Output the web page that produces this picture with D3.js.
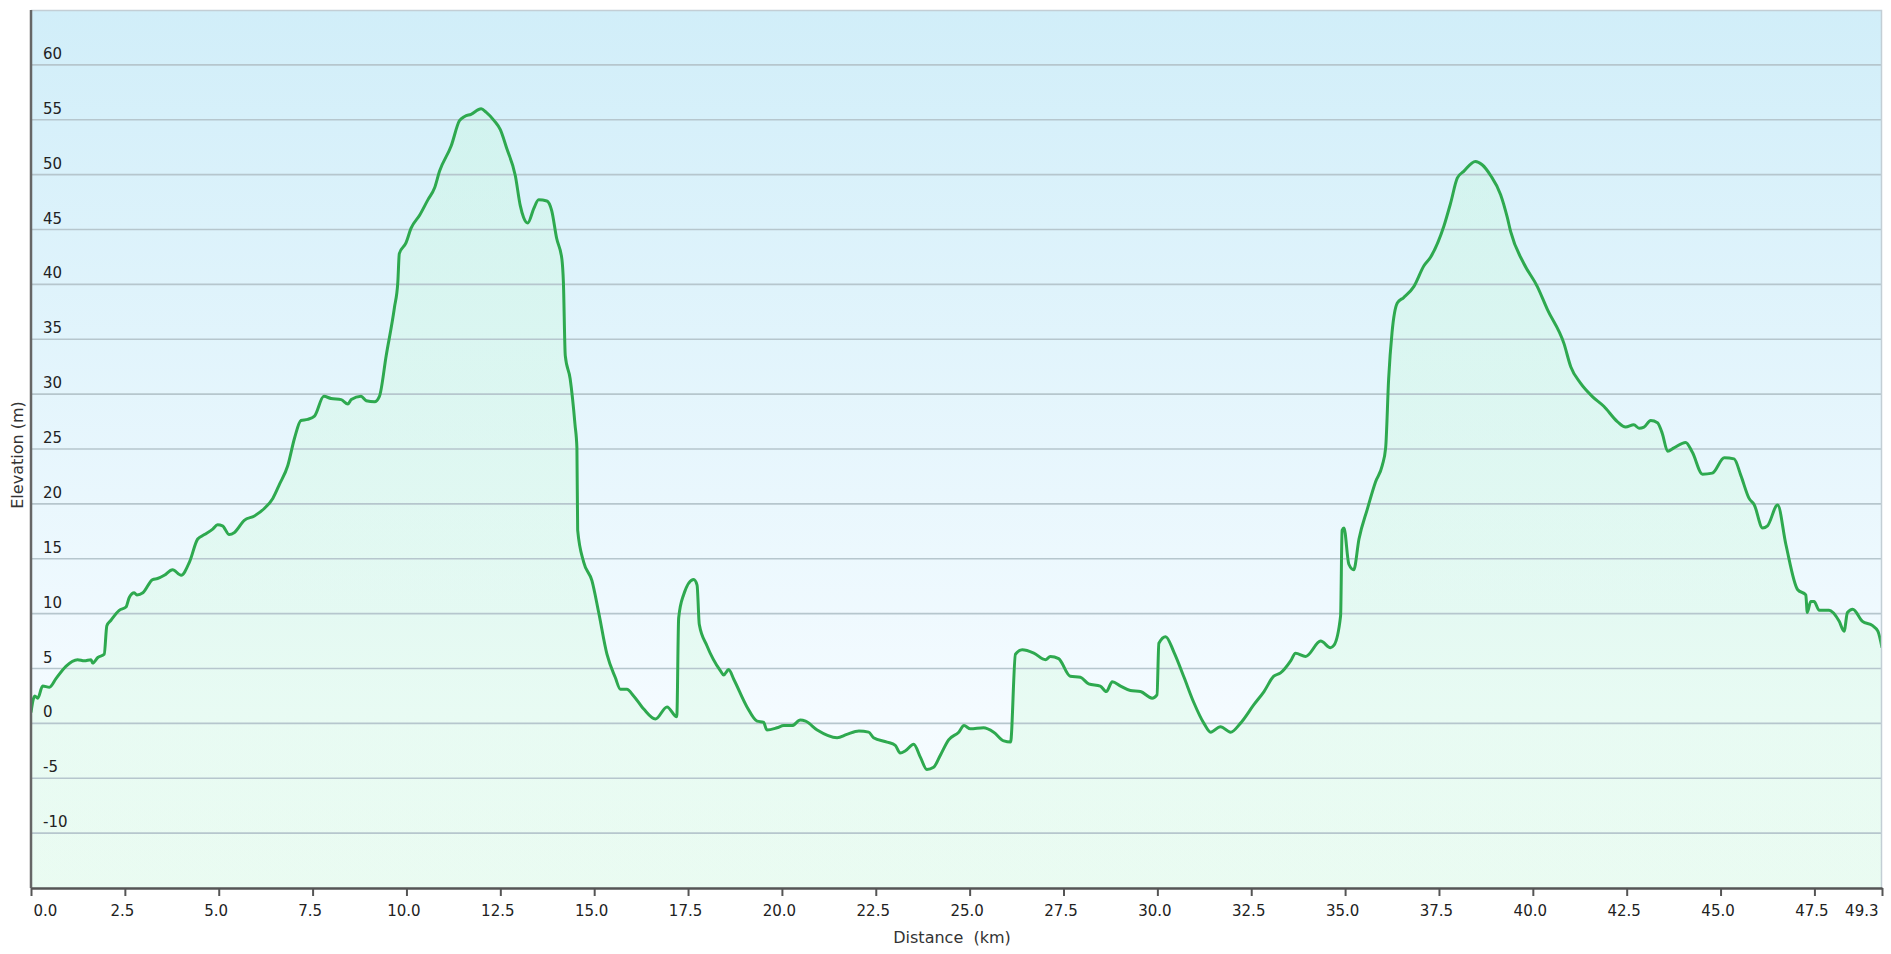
<!DOCTYPE html>
<html>
<head>
<meta charset="utf-8">
<script src="https://cdn.jsdelivr.net/npm/d3@7"></script>
<style>
  html, body { margin: 0; padding: 0; background: #fff; }
  svg { display: block; font-family: "DejaVu Sans", Verdana, sans-serif; }
</style>
</head>
<body>
<div id="chart"></div>
<script>
var W = 1891;
var H = 954;

// distance along the route (km) and elevation (m)
var distance = [
  0.0, 0.1, 0.18, 0.31, 0.49, 0.67, 0.93, 1.24, 1.42, 1.6, 1.64, 1.78, 1.95, 2.02, 2.13, 2.35,
  2.53, 2.62, 2.75, 2.82, 2.98, 3.24, 3.37, 3.55, 3.77, 4.0, 4.22, 4.44, 4.62, 4.84, 4.97, 5.1,
  5.28, 5.42, 5.68, 5.95, 6.22, 6.44, 6.62, 6.84, 7.02, 7.19, 7.37, 7.55, 7.8, 7.99, 8.26, 8.44,
  8.53, 8.79, 8.93, 9.15, 9.28, 9.46, 9.68, 9.77, 9.81, 9.99, 10.12, 10.35, 10.57, 10.75, 10.88, 11.19,
  11.41, 11.55, 11.72, 11.99, 12.12, 12.34, 12.5, 12.67, 12.9, 13.03, 13.12, 13.23, 13.39, 13.52, 13.74, 13.87,
  14.0, 14.14, 14.18, 14.23, 14.36, 14.49, 14.54, 14.56, 14.72, 14.94, 15.12, 15.34, 15.56, 15.7, 15.87, 16.05,
  16.32, 16.63, 16.94, 17.2, 17.25, 17.38, 17.65, 17.74, 17.8, 18.0, 18.36, 18.45, 18.58, 18.72, 19.07, 19.34,
  19.51, 19.6, 19.87, 20.05, 20.27, 20.49, 20.63, 20.94, 21.47, 21.73, 22.05, 22.31, 22.44, 22.8, 23.02, 23.15,
  23.29, 23.51, 23.69, 23.86, 24.04, 24.22, 24.44, 24.71, 24.85, 25.02, 25.37, 25.64, 25.91, 26.09, 26.22, 26.4,
  26.71, 27.02, 27.15, 27.37, 27.68, 27.95, 28.17, 28.48, 28.64, 28.8, 29.02, 29.28, 29.55, 29.86, 29.99, 30.04,
  30.22, 30.44, 30.71, 30.97, 31.24, 31.42, 31.68, 31.95, 32.21, 32.57, 32.84, 33.1, 33.28, 33.55, 33.68, 33.95,
  34.35, 34.61, 34.7, 34.88, 34.92, 34.97, 35.1, 35.23, 35.37, 35.59, 35.81, 35.99, 36.08, 36.16, 36.25, 36.39,
  36.56, 36.83, 37.1, 37.28, 37.63, 37.81, 37.99, 38.16, 38.47, 38.65, 38.88, 39.14, 39.32, 39.41, 39.76, 40.12,
  40.39, 40.83, 41.01, 41.27, 41.58, 41.89, 42.25, 42.47, 42.69, 42.83, 42.96, 43.14, 43.32, 43.45, 43.59, 43.76,
  44.07, 44.25, 44.52, 44.78, 45.1, 45.36, 45.54, 45.76, 45.9, 46.12, 46.25, 46.52, 46.74, 47.05, 47.27, 47.31,
  47.4, 47.49, 47.63, 47.89, 48.16, 48.29, 48.38, 48.52, 48.78, 49.05, 49.19, 49.3
];
var elevation = [
  1.0, 2.5, 2.3, 3.4, 3.3, 4.1, 5.2, 5.8, 5.7, 5.8, 5.5, 6.0, 6.3, 8.9, 9.4, 10.3,
  10.6, 11.5, 11.9, 11.7, 11.9, 13.1, 13.2, 13.5, 14.0, 13.5, 14.7, 16.8, 17.2, 17.7, 18.1, 18.0,
  17.2, 17.4, 18.5, 18.9, 19.6, 20.5, 21.8, 23.5, 26.0, 27.6, 27.7, 28.0, 29.8, 29.6, 29.5, 29.1,
  29.5, 29.8, 29.4, 29.3, 29.8, 33.5, 37.9, 40.2, 42.8, 43.8, 45.1, 46.3, 47.7, 48.8, 50.3, 52.6,
  54.9, 55.3, 55.5, 56.0, 55.7, 54.9, 54.1, 52.4, 49.9, 47.2, 46.1, 45.6, 46.9, 47.7, 47.6, 46.7,
  44.2, 42.3, 40.2, 33.5, 31.4, 27.2, 25.1, 17.6, 14.7, 13.0, 10.1, 6.3, 4.2, 3.1, 3.1, 2.5,
  1.3, 0.4, 1.5, 0.6, 9.6, 11.7, 13.1, 12.6, 9.0, 7.1, 4.8, 4.4, 4.9, 4.0, 1.5, 0.2,
  0.1, -0.6, -0.4, -0.2, -0.2, 0.3, 0.2, -0.6, -1.3, -1.0, -0.7, -0.8, -1.3, -1.7, -2.0, -2.7,
  -2.5, -1.9, -3.1, -4.2, -4.0, -2.9, -1.5, -0.8, -0.2, -0.5, -0.4, -0.8, -1.6, -1.7, 6.3, 6.7,
  6.4, 5.8, 6.1, 5.9, 4.3, 4.2, 3.6, 3.4, 2.9, 3.8, 3.4, 3.0, 2.9, 2.3, 2.6, 7.3,
  7.9, 6.5, 4.2, 1.9, 0.0, -0.8, -0.3, -0.8, 0.0, 1.7, 2.9, 4.3, 4.6, 5.7, 6.4, 6.1,
  7.5, 6.9, 7.1, 9.8, 17.6, 17.8, 14.5, 14.0, 16.8, 19.5, 22.0, 23.5, 25.1, 31.4, 35.6, 38.3,
  38.8, 39.8, 41.7, 42.5, 45.3, 47.4, 49.7, 50.3, 51.2, 50.9, 49.9, 48.2, 46.1, 44.8, 41.9, 39.8,
  37.7, 34.6, 32.5, 31.0, 29.8, 28.9, 27.5, 27.0, 27.2, 26.9, 27.0, 27.6, 27.4, 26.4, 24.8, 25.1,
  25.6, 24.7, 22.7, 22.8, 24.2, 24.1, 22.6, 20.5, 19.9, 17.8, 18.0, 19.9, 16.3, 12.2, 11.7, 10.1,
  11.1, 11.1, 10.3, 10.3, 9.3, 8.4, 10.1, 10.4, 9.3, 8.9, 8.4, 6.9
];

var xTicks = [0, 2.5, 5, 7.5, 10, 12.5, 15, 17.5, 20, 22.5, 25, 27.5, 30, 32.5, 35, 37.5, 40, 42.5, 45, 47.5, 49.3];
var yTicks = [-10, -5, 0, 5, 10, 15, 20, 25, 30, 35, 40, 45, 50, 55, 60];

var plotL = 31, plotR = 1882, plotT = 10, plotB = 888;

var data = distance.map(function (d, i) { return { km: d, m: elevation[i] }; });

var x = d3.scaleLinear().domain([0, 49.3]).range([plotL, plotR]);
var y = d3.scaleLinear().domain([-15, 65]).range([plotB, plotT]);

var svg = d3.select("#chart")
    .append("svg")
    .attr("width", W)
    .attr("height", H);

var defs = svg.append("defs");

var bg = defs.append("linearGradient")
    .attr("id", "bg")
    .attr("x1", 0).attr("y1", 0).attr("x2", 0).attr("y2", 1);
bg.append("stop").attr("offset", "0%").attr("stop-color", "#d1eef9");
bg.append("stop").attr("offset", "80%").attr("stop-color", "#f4fbff");
bg.append("stop").attr("offset", "100%").attr("stop-color", "#f6fcfd");

var fill = defs.append("linearGradient")
    .attr("id", "fill")
    .attr("x1", 0).attr("y1", 0).attr("x2", 0).attr("y2", 1);
fill.append("stop").attr("offset", "0%").attr("stop-color", "rgb(200,250,215)").attr("stop-opacity", 0.3);
fill.append("stop").attr("offset", "100%").attr("stop-color", "rgb(205,250,215)").attr("stop-opacity", 0.3);

defs.append("clipPath").attr("id", "plot")
    .append("rect")
    .attr("x", plotL).attr("y", plotT)
    .attr("width", plotR - plotL).attr("height", plotB - plotT);

// plot background
svg.append("rect")
    .attr("x", plotL).attr("y", plotT)
    .attr("width", plotR - plotL).attr("height", plotB - plotT)
    .attr("fill", "url(#bg)");

// area under the profile
var area = d3.area()
    .x(function (d) { return x(d.km); })
    .y0(y(-15))
    .y1(function (d) { return y(d.m); })
    .curve(d3.curveMonotoneX);

svg.append("path")
    .datum(data)
    .attr("clip-path", "url(#plot)")
    .attr("d", area)
    .attr("fill", "url(#fill)");

// horizontal grid lines
svg.append("g")
    .selectAll("line")
    .data(yTicks)
    .enter()
    .append("line")
    .attr("x1", plotL)
    .attr("x2", plotR)
    .attr("y1", function (d) { return y(d); })
    .attr("y2", function (d) { return y(d); })
    .attr("stroke", "#b6c6cd")
    .attr("stroke-width", 1.6);

// profile line
var line = d3.line()
    .x(function (d) { return x(d.km); })
    .y(function (d) { return y(d.m); })
    .curve(d3.curveMonotoneX);

svg.append("path")
    .datum(data)
    .attr("clip-path", "url(#plot)")
    .attr("d", line)
    .attr("fill", "none")
    .attr("stroke", "#2ea94f")
    .attr("stroke-width", 3)
    .attr("stroke-linejoin", "round");

// y labels sit inside the plot, just above each grid line
svg.append("g")
    .selectAll("text")
    .data(yTicks)
    .enter()
    .append("text")
    .attr("x", plotL + 12)
    .attr("y", function (d) { return y(d) - 6; })
    .attr("font-size", "15px")
    .attr("fill", "#222")
    .text(function (d) { return d; });

// top and right border
svg.append("path")
    .attr("d", "M" + plotL + "," + (plotT + 0.5) + "H" + (plotR - 0.5) + "V" + plotB)
    .attr("fill", "none")
    .attr("stroke", "#c3ced5")
    .attr("stroke-width", 1.5);

// left axis line
svg.append("line")
    .attr("x1", plotL).attr("x2", plotL)
    .attr("y1", plotT).attr("y2", plotB)
    .attr("stroke", "#666")
    .attr("stroke-width", 2.5);

// x axis
var xAxis = d3.axisBottom(x)
    .tickValues(xTicks)
    .tickSize(8)
    .tickSizeOuter(0)
    .tickFormat(d3.format(".1f"));

var gx = svg.append("g")
    .attr("transform", "translate(0," + plotB + ")")
    .call(xAxis);

gx.select(".domain")
    .attr("stroke", "#555")
    .attr("stroke-width", 2.5);
gx.selectAll(".tick line")
    .attr("stroke", "#555")
    .attr("stroke-width", 2);
gx.selectAll(".tick text")
    .attr("font-family", "DejaVu Sans, Verdana, sans-serif")
    .attr("font-size", "15px")
    .attr("fill", "#222")
    .attr("y", 28)
    .attr("dy", null)
    .attr("x", -3);
gx.selectAll(".tick text")
    .filter(function (d, i) { return i === 0; })
    .attr("text-anchor", "start")
    .attr("x", 2);
gx.selectAll(".tick text")
    .filter(function (d, i) { return i === xTicks.length - 1; })
    .attr("text-anchor", "end")
    .attr("x", -4);

// axis titles
svg.append("text")
    .attr("x", 952)
    .attr("y", 943)
    .attr("text-anchor", "middle")
    .attr("font-size", "16px")
    .attr("fill", "#333")
    .style("white-space", "pre")
    .text("Distance  (km)");

svg.append("text")
    .attr("transform", "translate(23,455) rotate(-90)")
    .attr("text-anchor", "middle")
    .attr("font-size", "16px")
    .attr("fill", "#333")
    .text("Elevation (m)");
</script>
</body>
</html>
